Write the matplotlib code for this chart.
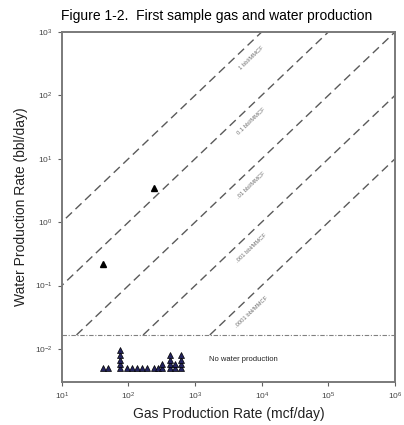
import matplotlib
matplotlib.use("Agg")
import matplotlib.pyplot as plt
import numpy as np

plt.rcParams["font.family"] = ["Liberation Sans", "DejaVu Sans"]

# water/gas ratio lines (bbl/day per mcf/day) and their labels
ratios = [1e-1, 1e-2, 1e-3, 1e-4, 1e-5]
ratio_labels = ["1 bbl/MMCF", "0.1 bbl/MMCF", ".01 bbl/MMCF", ".001 bbl/MMCF", ".0001 bbl/MMCF"]
cutoff = 0.0166  # no-water-production threshold

# wells with measured water
gas_wet = [42, 240]
water_wet = [0.22, 3.5]

# wells with no water production (plotted below the cutoff)
gas_dry = [42, 50, 74, 74, 74, 74, 74, 94, 112, 133, 158, 187, 238, 274, 314, 314,
           414, 414, 414, 414, 492, 492, 604, 604, 604, 604]
water_dry = [0.005, 0.005, 0.005, 0.0058, 0.0067, 0.008, 0.0096, 0.005, 0.005, 0.005,
             0.005, 0.005, 0.005, 0.005, 0.005, 0.0058, 0.005, 0.0058, 0.0067, 0.008,
             0.005, 0.0058, 0.005, 0.0058, 0.0067, 0.008]

fig = plt.figure(figsize=(4.04, 4.25), dpi=100)
ax = fig.add_axes([0.153, 0.101, 0.825, 0.824])
ax.set_xscale("log")
ax.set_yscale("log")
ax.set_xlim(10, 1e6)
ax.set_ylim(0.003, 1000)

line_col = "#5a5a5a"
for r in ratios:
    g = np.array([cutoff / r, 1e6])
    ax.plot(g, g * r, color=line_col, lw=1.0, dashes=(6, 3.5))

ax.axhline(cutoff, color="#808080", lw=0.8, dashes=(4, 1.5, 1, 1.5))

# labels along the ratio lines
ax.figure.canvas.draw()
p1 = ax.transData.transform((1e3, 1e2))
p2 = ax.transData.transform((1e4, 1e3))
angle = np.degrees(np.arctan2(p2[1] - p1[1], p2[0] - p1[0]))
for r, lab in zip(ratios, ratio_labels):
    gx = 5500
    ax.annotate(lab, (gx, gx * r), xytext=(5, -7), textcoords="offset points",
                rotation=angle, rotation_mode="anchor", ha="center", va="center",
                fontsize=4.2, color="#707070")

ax.plot(gas_wet, water_wet, ls="none", marker="^", ms=4.2, color="black")
ax.plot(gas_dry, water_dry, ls="none", marker="^", ms=4.2,
        markerfacecolor="#23235f", markeredgecolor="black", markeredgewidth=0.5)

ax.text(1600, 0.0068, "No water production", fontsize=5.5, color="#222222", va="center")

fig.text(0.535, 0.962, "Figure 1-2.  First sample gas and water production",
         fontsize=10, ha="center", va="center")
ax.set_xlabel("Gas Production Rate (mcf/day)", fontsize=10, labelpad=3, color="#222222")
ax.set_ylabel("Water Production Rate (bbl/day)", fontsize=10, labelpad=5, color="#222222")

ax.set_xticks([1e1, 1e2, 1e3, 1e4, 1e5, 1e6])
ax.set_yticks([1e-2, 1e-1, 1e0, 1e1, 1e2, 1e3])
ax.minorticks_off()
ax.tick_params(which="major", direction="out", length=3, width=0.8, colors="#606060",
               labelsize=6, labelcolor="#444444")
for s in ax.spines.values():
    s.set_color("#7a7a7a")
    s.set_linewidth(1.4)

fig.savefig("out.png", dpi=100)
